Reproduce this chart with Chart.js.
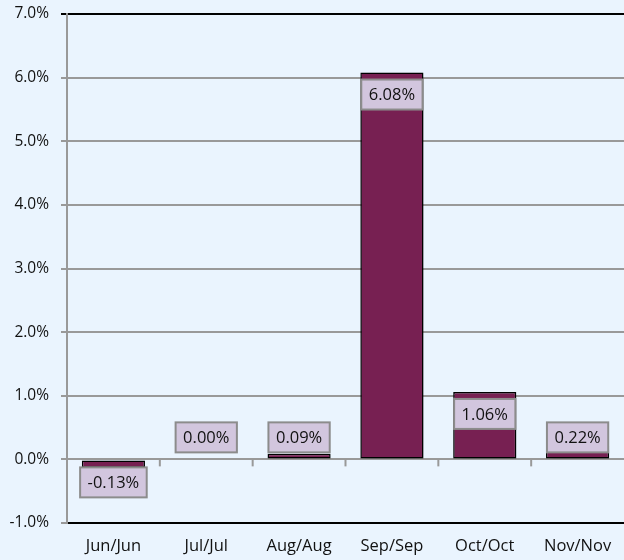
<!DOCTYPE html>
<html>
<head>
<meta charset="utf-8">
<script src="https://cdn.jsdelivr.net/npm/chart.js@4.4.1/dist/chart.umd.min.js"></script>
<style>
  html, body { margin: 0; padding: 0; background: #eaf4fe; }
  #wrap { width: 624px; height: 560px; position: relative; }
</style>
</head>
<body>
<div id="wrap"><canvas id="chart"></canvas></div>
<script>
// Year-on-year change, per month
const categories = ['Jun/Jun', 'Jul/Jul', 'Aug/Aug', 'Sep/Sep', 'Oct/Oct', 'Nov/Nov'];
const changePct = [-0.13, 0.00, 0.09, 6.08, 1.06, 0.22];
const yTicks = [-1, 0, 1, 2, 3, 4, 5, 6, 7];

const FONT = '"Open Sans", sans-serif';
const BAR_COLOR = '#772052';
const BOX_FILL = '#d2c6de';
const BOX_LINE = '#8c8c8c';

// Soft drop shadow under the bars, like the spreadsheet original
const barShadow = {
  id: 'barShadow',
  beforeDatasetsDraw(chart) {
    const ctx = chart.ctx;
    ctx.save();
    ctx.shadowColor = 'rgba(0, 0, 0, 0.4)';
    ctx.shadowBlur = 9;
    ctx.shadowOffsetX = 3;
    ctx.shadowOffsetY = 5;
  },
  afterDatasetsDraw(chart) {
    chart.ctx.restore();
  }
};

// Small tick marks on the zero line between categories
const zeroTicks = {
  id: 'zeroTicks',
  afterDatasetsDraw(chart) {
    const { ctx, scales: { x, y } } = chart;
    const y0 = y.getPixelForValue(0);
    ctx.save();
    ctx.strokeStyle = '#999999';
    ctx.lineWidth = 2;
    for (let i = 0; i < categories.length - 1; i++) {
      const bx = (x.getPixelForValue(i) + x.getPixelForValue(i + 1)) / 2;
      ctx.beginPath();
      ctx.moveTo(bx, y0);
      ctx.lineTo(bx, y0 + 7);
      ctx.stroke();
    }
    ctx.restore();
  }
};

// Boxed value labels, inside the bar end
const valueBoxes = {
  id: 'valueBoxes',
  afterDatasetsDraw(chart) {
    const { ctx, scales: { y } } = chart;
    const y0 = y.getPixelForValue(0);
    const meta = chart.getDatasetMeta(0);
    ctx.save();
    ctx.font = '16.5px ' + FONT;
    ctx.textAlign = 'center';
    ctx.textBaseline = 'middle';
    meta.data.forEach((bar, i) => {
      const v = changePct[i];
      const text = v.toFixed(2) + '%';
      const w = ctx.measureText(text).width + 15;
      const h = 30;
      let top;
      if (v >= 0) {
        top = Math.min(bar.y + 7, y0 - 7 - h);
      } else {
        top = Math.max(bar.y - 7 - h, y0 + 8);
      }
      const left = bar.x - w / 2;
      ctx.fillStyle = BOX_FILL;
      ctx.fillRect(left, top, w, h);
      ctx.strokeStyle = BOX_LINE;
      ctx.lineWidth = 2;
      ctx.strokeRect(left, top, w, h);
      ctx.fillStyle = '#111111';
      ctx.fillText(text, bar.x, top + h / 2 + 1);
    });
    ctx.restore();
  }
};

new Chart(document.getElementById('chart'), {
  type: 'bar',
  data: {
    labels: categories,
    datasets: [{
      data: changePct,
      backgroundColor: BAR_COLOR,
      borderColor: '#000000',
      borderWidth: 1.5,
      borderSkipped: false,
      categoryPercentage: 1,
      barPercentage: 0.68,
    }]
  },
  options: {
    responsive: true,
    maintainAspectRatio: false,
    animation: false,
    layout: { padding: { top: 14, right: 0, left: 0, bottom: 0 } },
    plugins: {
      legend: { display: false },
      tooltip: { enabled: false },
    },
    scales: {
      x: {
        grid: { display: false, drawTicks: false },
        border: { display: true, color: '#000000', width: 2 },
        ticks: { color: '#111111', font: { family: FONT, size: 16.5 }, padding: 13 },
        afterFit: (scale) => { scale.height = 37; scale.paddingLeft = 0; scale.paddingRight = 0; },
      },
      y: {
        min: yTicks[0],
        max: yTicks[yTicks.length - 1],
        afterBuildTicks: (scale) => { scale.ticks = yTicks.map(v => ({ value: v })); },
        grid: {
          color: (c) => (c.tick && c.tick.value === 7 ? '#000000' : '#999999'),
          lineWidth: 2,
          tickLength: 6,
        },
        border: { display: true, color: '#999999', width: 2 },
        ticks: {
          color: '#111111',
          font: { family: FONT, size: 15.5 },
          padding: 12,
          callback: (v) => v.toFixed(1) + '%',
        },
        afterFit: (scale) => { scale.width = 67; scale.paddingTop = 0; scale.paddingBottom = 0; },
      }
    }
  },
  plugins: [barShadow, zeroTicks, valueBoxes]
});
</script>
</body>
</html>
